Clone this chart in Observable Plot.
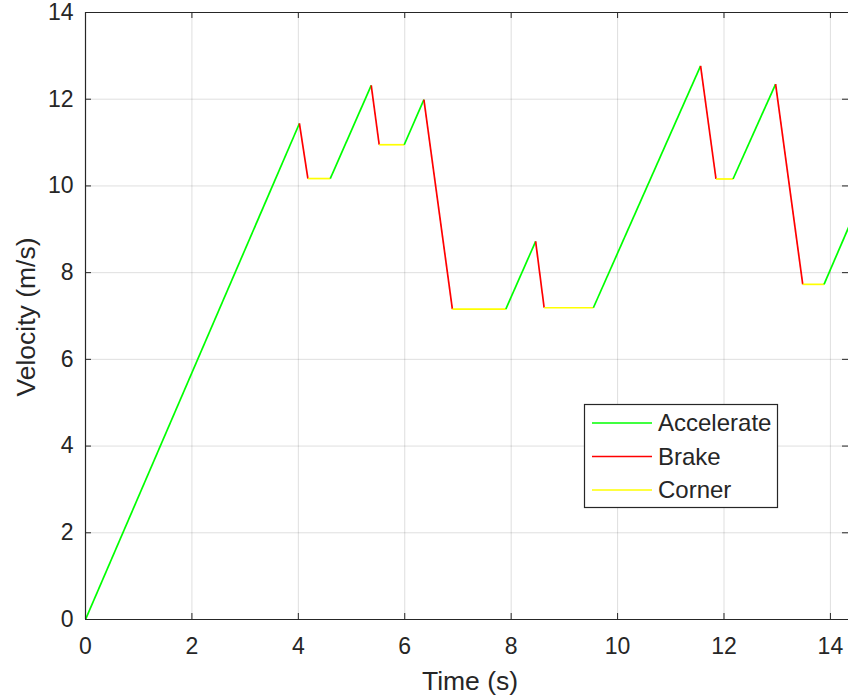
<!DOCTYPE html>
<html>
<head>
<meta charset="utf-8">
<script src="https://cdn.jsdelivr.net/npm/d3@7"></script>
<script src="https://cdn.jsdelivr.net/npm/@observablehq/plot@0.6"></script>
<style>
  html, body { margin: 0; padding: 0; background: #fff; }
  #chart { position: relative; width: 848px; height: 700px; }
</style>
</head>
<body>
<div id="chart"></div>
<script>
// ---- data ----
const times    = [0, 4.02, 4.18, 4.60, 5.37, 5.52, 5.99, 6.36, 6.895, 7.90, 8.46, 8.62, 9.545, 11.56, 11.85, 12.17, 12.97, 13.48, 13.88, 14.40];
const velocity = [0, 11.44, 10.17, 10.17, 12.32, 10.95, 10.95, 11.99, 7.16, 7.16, 8.72, 7.19, 7.19, 12.77, 10.16, 10.16, 12.35, 7.73, 7.73, 9.21];
const phases   = ["Accelerate","Brake","Corner","Accelerate","Brake","Corner","Accelerate","Brake","Corner",
                  "Accelerate","Brake","Corner","Accelerate","Brake","Corner","Accelerate","Brake","Corner","Accelerate"];
const legendNames  = ["Accelerate", "Brake", "Corner"];
const legendColors = ["#00ff00", "#ff0000", "#ffff00"];
const xTicks = [0, 2, 4, 6, 8, 10, 12, 14];
const yTicks = [0, 2, 4, 6, 8, 10, 12, 14];
const xLabel = "Time (s)";
const yLabel = "Velocity (m/s)";

const segments = phases.map((p, i) => ({
  t1: times[i], v1: velocity[i], t2: times[i + 1], v2: velocity[i + 1], phase: p
}));

const W = 848, H = 700;
const mL = 85, mR = 0, mT = 12, mB = 81;
const ink = "#262626";
const innerH = H - mT - mB, innerW = W - mL - mR;

const plot = Plot.plot({
  width: W, height: H,
  marginLeft: mL, marginRight: mR, marginTop: mT, marginBottom: mB,
  style: { fontFamily: "'Liberation Sans', Arial, sans-serif", color: ink, background: "#fff" },
  x: { domain: [0, 14.34], ticks: xTicks },
  y: { domain: [0, 14], ticks: yTicks },
  color: { domain: legendNames, range: legendColors },
  marks: [
    Plot.gridX(xTicks, { stroke: ink, strokeOpacity: 0.15, strokeWidth: 1 }),
    Plot.gridY(yTicks, { stroke: ink, strokeOpacity: 0.15, strokeWidth: 1 }),
    Plot.link(segments, {
      x1: "t1", y1: "v1", x2: "t2", y2: "v2",
      stroke: "phase", strokeWidth: 1.7, clip: true
    }),
    // axis lines (box without right side, which is cropped)
    Plot.ruleX([0], { stroke: ink, strokeWidth: 1.2 }),
    Plot.ruleY([0, 14], { stroke: ink, strokeWidth: 1.2 }),
    // inward tick marks
    Plot.tickX(xTicks, { x: d => d, stroke: ink, insetTop: innerH - 6 }),
    Plot.tickX(xTicks, { x: d => d, stroke: ink, insetBottom: innerH - 6 }),
    Plot.tickY(yTicks, { y: d => d, stroke: ink, insetRight: innerW - 6 }),
    Plot.tickY(yTicks, { y: d => d, stroke: ink, insetLeft: innerW - 6 }),
    Plot.axisX(xTicks, { tickSize: 0, tickPadding: 18, fontSize: 23, label: null, fill: ink }),
    Plot.axisY(yTicks, { tickSize: 0, tickPadding: 12, fontSize: 23, label: null, fill: ink }),
    Plot.text([xLabel], { frameAnchor: "bottom", textAnchor: "middle", dx: 3, dy: 70, fontSize: 26.5, fill: ink }),
    Plot.text([yLabel], { frameAnchor: "left", textAnchor: "middle", lineAnchor: "middle", dx: -59, dy: 1, rotate: -90, fontSize: 26.5, fill: ink })
  ]
});

document.getElementById("chart").appendChild(plot);

// legend inside the axes
const svg = d3.select(plot);
const lg = svg.append("g")
  .attr("font-family", "'Liberation Sans', Arial, sans-serif")
  .attr("text-anchor", "start");
const bx = 584, by = 404, bw = 193, bh = 103;
lg.append("rect").attr("x", bx + 0.5).attr("y", by + 0.5).attr("width", bw).attr("height", bh)
  .attr("fill", "#fff").attr("stroke", ink).attr("stroke-width", 1.2);
legendNames.forEach((name, i) => {
  const cy = by + 19 + i * 33.5;
  lg.append("line").attr("x1", bx + 8).attr("x2", bx + 68).attr("y1", cy).attr("y2", cy)
    .attr("stroke", legendColors[i]).attr("stroke-width", 1.7);
  lg.append("text").attr("x", bx + 74).attr("y", cy).attr("dy", "0.35em")
    .attr("text-anchor", "start")
    .attr("font-size", 24).attr("fill", ink).text(name);
});
</script>
</body>
</html>
